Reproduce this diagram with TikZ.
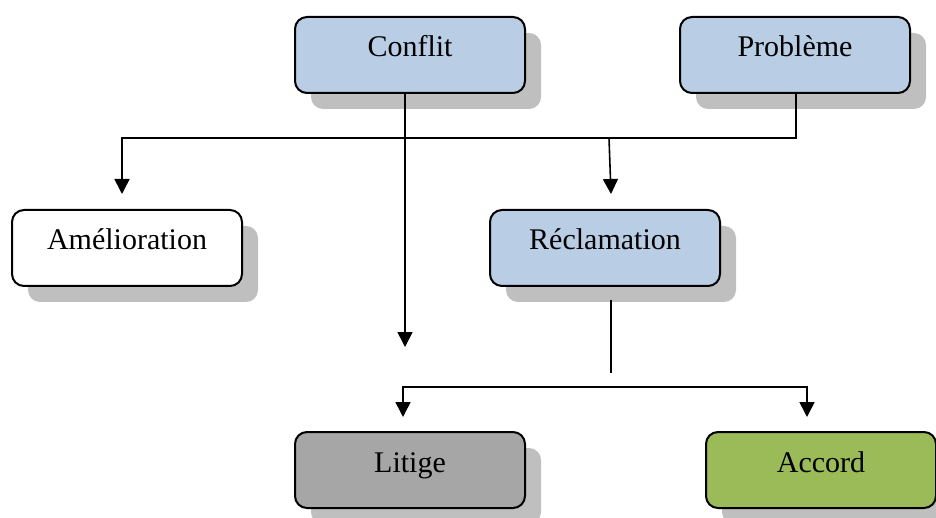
\documentclass[tikz,border=0pt]{standalone}
\usepackage{fontspec}
\setmainfont{Liberation Serif}
\usetikzlibrary{arrows.meta,shadows}
\definecolor{boxblue}{HTML}{B9CDE5}
\definecolor{boxgray}{HTML}{A6A6A6}
\definecolor{boxgreen}{HTML}{9BBB59}
\definecolor{shadowgray}{HTML}{BFBFBF}
\begin{document}
\begin{tikzpicture}[x=1pt,y=-1pt,
  box/.style={draw=black, line width=2pt, rounded corners=12pt,
    minimum width=230pt, minimum height=76pt, anchor=north west,
    inner sep=0pt, text height=20pt, text depth=16pt,
    font=\fontsize{30}{36}\selectfont,
    drop shadow={shadow xshift=16pt, shadow yshift=-16pt, fill=shadowgray, opacity=1, draw=none}},
  conn/.style={line width=1.4pt},
  tip/.style={Triangle[width=15pt,length=15pt]},
  arr/.style={line width=1.6pt, -{Triangle[width=15pt,length=15pt]}},
  arrtwo/.style={line width=1.6pt, {Triangle[width=15pt,length=15pt]}-{Triangle[width=15pt,length=15pt]}}]
\useasboundingbox (0,0) rectangle (936,518);
% boxes
\node[box, fill=boxblue] (conflit) at (294,16) {Conflit};
\node[box, fill=boxblue] (probleme) at (679,16) {Problème};
\node[box, fill=white] (amelioration) at (11,209) {Amélioration};
\node[box, fill=boxblue] (reclamation) at (489,209) {Réclamation};
\node[box, fill=boxgray] (litige) at (294,431) {Litige};
\node[box, fill=boxgreen] (accord) at (705,431) {Accord};
% coordinates
\coordinate (pv) at (796,138);
\coordinate (ph) at (122,138);
\coordinate (pa) at (122,194);
\coordinate (rb) at (609,138);
\coordinate (ra) at (611,194);
\coordinate (cv) at (405,347);
\coordinate (rs) at (611,300);
\coordinate (re) at (611,373);
\coordinate (la) at (403,417);
\coordinate (lh) at (403,387);
\coordinate (ah) at (807,387);
\coordinate (aa) at (807,417);
% connectors
\draw[arr] (probleme.south -| pv) -- (pv) -- (ph) -- (pa);
\draw[arr] (rb) -- (ra);
\draw[arr] (conflit.south -| cv) -- (cv);
\draw[conn] (rs) -- (re);
\draw[arrtwo] (la) -- (lh) -- (ah) -- (aa);
\end{tikzpicture}
\end{document}
